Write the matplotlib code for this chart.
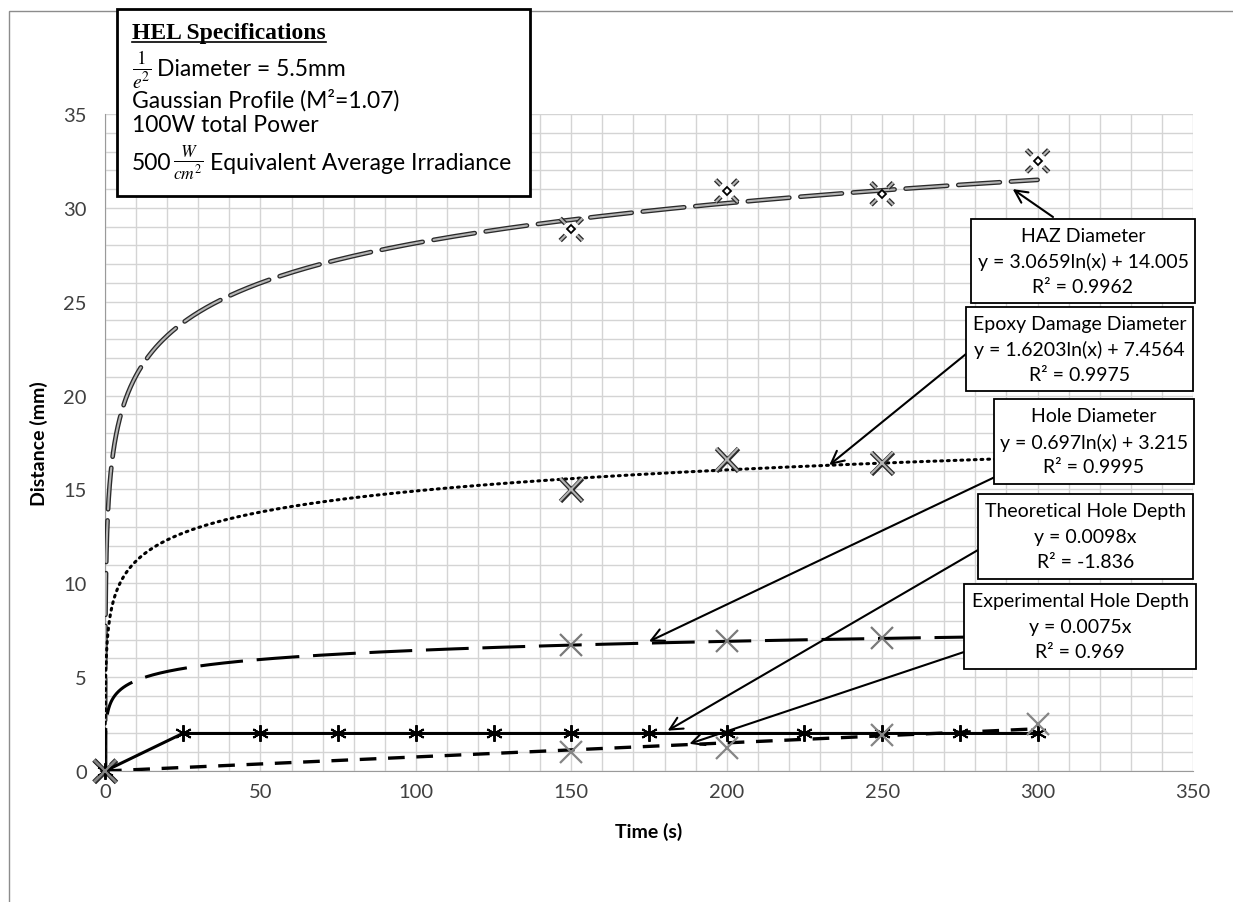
import numpy as np
import matplotlib
matplotlib.use("Agg")
import matplotlib.pyplot as plt
import matplotlib.patheffects as pe
from matplotlib.path import Path
from matplotlib.patches import Rectangle

plt.rcParams["font.family"] = ["Lato", "DejaVu Sans"]
plt.rcParams["mathtext.fontset"] = "stix"

## data ##
theo_time = [0, 25, 50, 75, 100, 125, 150, 175, 200, 225, 250, 275, 300]
theo_depth = [0, 2, 2, 2, 2, 2, 2, 2, 2, 2, 2, 2, 2]

exp_time = [0, 150, 200, 250, 300]
exp_depth = [0, 1.0, 1.2, 1.9, 2.5]

hole_time = [0, 150, 200, 250]
hole_diam = [0, 6.7, 6.9, 7.1]

epoxy_time = [0, 150, 200, 250]
epoxy_diam = [0, 15.0, 16.6, 16.4]

haz_time = [0, 150, 200, 250, 300]
haz_diam = [0, 28.85, 30.9, 30.75, 32.5]

# trendline coefficients as printed on the chart
haz_fit = (3.0659, 14.005)
epoxy_fit = (1.6203, 7.4564)
hole_fit = (0.697, 3.215)
exp_slope = 0.0075

x_ticks = [0, 50, 100, 150, 200, 250, 300, 350]
y_ticks = [0, 5, 10, 15, 20, 25, 30, 35]

W, H = 1233, 903


def fx(x):
    return x / W


def fy(y):
    return 1 - y / H


def add_box(fig, x0, y0, x1, y1, lines, lw=1.3):
    # white callout box drawn in figure pixels (y measured from the top)
    rect = Rectangle((fx(x0), fy(y1)), (x1 - x0) / W, (y1 - y0) / H,
                     transform=fig.transFigure, fc="white", ec="black",
                     lw=lw, zorder=5)
    fig.add_artist(rect)
    yc = (y0 + y1) / 2
    for i, line in enumerate(lines):
        fig.text(fx((x0 + x1) / 2), fy(yc + (i - 1) * 25.5), line,
                 ha="center", va="center", fontsize=14, zorder=6)


def main():
    fig = plt.figure(figsize=(W / 100, H / 100), dpi=100)
    ax = fig.add_axes([fx(105), fy(772), 1088 / W, 657 / H])

    # chart border
    fig.add_artist(Rectangle((fx(9), fy(H + 20)), (W + 20) / W, (H + 8) / H,
                             transform=fig.transFigure, fill=False,
                             ec="#8c8c8c", lw=1, zorder=0))

    double = [pe.Stroke(linewidth=3.4, foreground="#2a2a2a"),
              pe.Stroke(linewidth=1.5, foreground="#b4b4b4")]

    t = np.geomspace(0.01, 300, 600)

    # HAZ diameter
    ax.plot(t, haz_fit[0] * np.log(t) + haz_fit[1], color="#b4b4b4",
            lw=2, dashes=(15, 4), dash_capstyle="round", path_effects=double,
            zorder=3)
    arms = []
    codes = []
    for dx, dy in [(1, 1), (1, -1), (-1, 1), (-1, -1)]:
        arms += [(0.5 * dx, 0.5 * dy), (0.95 * dx, 0.95 * dy)]
        codes += [Path.MOVETO, Path.LINETO]
    haz_marker = Path(arms, codes)
    ax.plot(haz_time, haz_diam, ls="none", marker=haz_marker, ms=16,
            mfc="none", mec="#b4b4b4", mew=1, path_effects=double,
            clip_on=False, zorder=4)
    ax.plot(haz_time, haz_diam, ls="none", marker="D", ms=4, mfc="white",
            mec="black", mew=1.3, clip_on=False, zorder=4)

    # epoxy damage diameter
    ax.plot(t, epoxy_fit[0] * np.log(t) + epoxy_fit[1], color="black",
            lw=2.2, dashes=(0.6, 1.6), dash_capstyle="round", zorder=3)
    ax.plot(epoxy_time, epoxy_diam, ls="none", marker="x", ms=16,
            mec="#b4b4b4", mew=1, path_effects=double, clip_on=False,
            zorder=4)

    # hole diameter
    ax.plot(t, hole_fit[0] * np.log(t) + hole_fit[1], color="black",
            lw=2.2, dashes=(14, 4.5), zorder=3)
    ax.plot(hole_time, hole_diam, ls="none", marker="x", ms=16,
            mec="#7a7a7a", mew=1.6, clip_on=False, zorder=4)

    # theoretical hole depth
    ax.plot(theo_time, theo_depth, color="black", lw=2.2, marker=(6, 2, 0),
            ms=12, mew=1.4, clip_on=False, zorder=4)

    # experimental hole depth
    t_lin = np.array([0, 300])
    ax.plot(t_lin, exp_slope * t_lin, color="black", lw=2.4,
            dashes=(5, 3.5), zorder=3)
    ax.plot(exp_time, exp_depth, ls="none", marker="x", ms=16,
            mec="#858585", mew=1.6, clip_on=False, zorder=4)

    ax.set_xlim(0, 350)
    ax.set_ylim(0, 35)
    ax.set_xticks(x_ticks)
    ax.set_yticks(y_ticks)
    ax.set_xticks(np.arange(0, 351, 10), minor=True)
    ax.set_yticks(np.arange(0, 36, 1), minor=True)
    ax.grid(True, which="both", color="#d4d4d4", lw=1, zorder=0)
    ax.set_axisbelow(True)
    ax.tick_params(which="both", length=0, labelsize=14.5, colors="#404040")
    ax.tick_params(axis="y", pad=13)
    ax.tick_params(axis="x", pad=9)
    for side in ["top", "right"]:
        ax.spines[side].set_visible(False)
    for side in ["left", "bottom"]:
        ax.spines[side].set_color("#9a9a9a")
    ax.set_xlabel("Time (s)", fontsize=14, fontweight="bold")
    ax.set_ylabel("Distance (mm)", fontsize=14, fontweight="bold")
    ax.xaxis.set_label_coords(0.5, -0.077)
    ax.yaxis.set_label_coords(-0.052, 0.5)

    # callout arrows: tail in figure pixels, head in data
    arrows = [((1053, 218), (292, 31.0)),
              ((966, 355), (233, 16.3)),
              ((995, 478), (175, 6.9)),
              ((978, 551), (181, 2.15)),
              ((964, 653), (188, 1.45))]
    for (px, py), head in arrows:
        ax.annotate("", xy=head, xytext=(px, H - py),
                    textcoords="figure pixels",
                    arrowprops=dict(arrowstyle="->,head_length=0.9,head_width=0.45",
                                    color="black", lw=1.5, shrinkA=0,
                                    shrinkB=0), zorder=4)

    add_box(fig, 971, 220, 1195, 304,
            ["HAZ Diameter", "y = 3.0659ln(x) + 14.005", "R² = 0.9962"])
    add_box(fig, 966, 308, 1193, 392,
            ["Epoxy Damage Diameter", "y = 1.6203ln(x) + 7.4564",
             "R² = 0.9975"])
    add_box(fig, 994, 400, 1194, 485,
            ["Hole Diameter", "y = 0.697ln(x) + 3.215", "R² = 0.9995"])
    add_box(fig, 978, 495, 1193, 580,
            ["Theoretical Hole Depth", "y = 0.0098x", "R² = -1.836"])
    add_box(fig, 964, 585, 1196, 670,
            ["Experimental Hole Depth", "y = 0.0075x", "R² = 0.969"])

    # HEL specification box
    fig.add_artist(Rectangle((fx(117), fy(197)), 413 / W, 187 / H,
                             transform=fig.transFigure, fc="white",
                             ec="black", lw=2, zorder=5))
    title = fig.text(fx(132), fy(33), "HEL Specifications", fontsize=17,
                     fontweight="bold", family="Liberation Serif",
                     va="center", zorder=6)
    fig.text(fx(142), fy(70), r"$\frac{1}{e^2}$", fontsize=20, ha="center",
             va="center", zorder=6)
    fig.text(fx(157), fy(70), "Diameter = 5.5mm", fontsize=16.5,
             va="center", zorder=6)
    fig.text(fx(132), fy(100), "Gaussian Profile (M²=1.07)", fontsize=16.5,
             va="center", zorder=6)
    fig.text(fx(132), fy(126), "100W total Power", fontsize=16.5,
             va="center", zorder=6)
    fig.text(fx(132), fy(163), "500", fontsize=16.5, va="center", zorder=6)
    fig.text(fx(188), fy(163), r"$\frac{W}{cm^2}$", fontsize=18,
             ha="center", va="center", zorder=6)
    fig.text(fx(210), fy(163), "Equivalent Average Irradiance",
             fontsize=16.5, va="center", zorder=6)

    # underline the title to its drawn width
    fig.canvas.draw()
    bb = title.get_window_extent()
    fig.add_artist(plt.Line2D([bb.x0 / W, bb.x1 / W], [fy(43), fy(43)],
                              transform=fig.transFigure, color="black",
                              lw=1.2, zorder=6))

    fig.savefig("out.png", dpi=100)


if __name__ == "__main__":
    main()
